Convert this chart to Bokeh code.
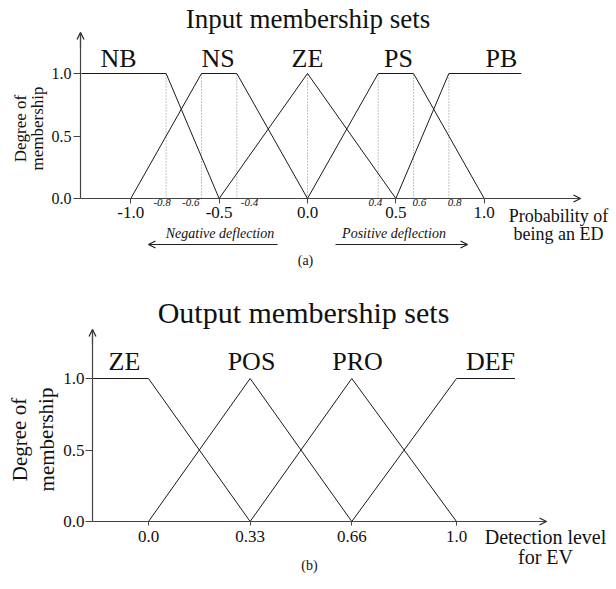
from bokeh.plotting import figure
from bokeh.models import (Range1d, Label, LabelSet, Arrow, OpenHead,
                          FixedTicker, ColumnDataSource)
from bokeh.layouts import column
from bokeh.embed import file_html
from bokeh.resources import INLINE
from bokeh.core.properties import value

FONT = "Liberation Serif"

# ---------------- data: (a) input membership sets ----------------
in_names = ["NB", "NS", "ZE", "PS", "PB"]
nb_x = [-1.28, -0.8, -0.5]
nb_y = [1.0, 1.0, 0.0]
ns_x = [-1.0, -0.6, -0.4, 0.0]
ns_y = [0.0, 1.0, 1.0, 0.0]
ze_x = [-0.5, 0.0, 0.5]
ze_y = [0.0, 1.0, 0.0]
ps_x = [0.0, 0.4, 0.6, 1.0]
ps_y = [0.0, 1.0, 1.0, 0.0]
pb_x = [0.5, 0.8, 1.21]
pb_y = [0.0, 1.0, 1.0]
in_xticks = [-1.0, -0.5, 0.0, 0.5, 1.0]
in_xtick_labels = ["-1.0", "-0.5", "0.0", "0.5", "1.0"]
in_marks = [-0.8, -0.6, -0.4, 0.4, 0.6, 0.8]
in_mark_labels = ["-0.8", "-0.6", "-0.4", "0.4", "0.6", "0.8"]
in_guides = [-0.8, -0.6, -0.4, 0.0, 0.4, 0.6, 0.8]

# ---------------- data: (b) output membership sets ----------------
out_names = ["ZE", "POS", "PRO", "DEF"]
oze_x = [-0.18, 0.0, 0.33]
oze_y = [1.0, 1.0, 0.0]
pos_x = [0.0, 0.33, 0.66]
pos_y = [0.0, 1.0, 0.0]
pro_x = [0.33, 0.66, 1.0]
pro_y = [0.0, 1.0, 0.0]
def_x = [0.66, 1.0, 1.19]
def_y = [0.0, 1.0, 1.0]
out_xticks = [0.0, 0.33, 0.66, 1.0]
out_xtick_labels = ["0.0", "0.33", "0.66", "1.0"]

yticks = [0.0, 0.5, 1.0]
ytick_labels = ["0.0", "0.5", "1.0"]

# ---------------- layout (positions of annotations, page pixels) ----------------
in_name_px = [118, 217.5, 307, 398, 501]
in_name_base = 67
in_mark_align = ["center", "right", "left", "right", "left", "left"]
in_mark_dx = [-4, -2, 4, 4, -1, -1]
out_name_px = [124, 251, 357, 490]
out_name_base = 370
SHIFT = 0.35   # baseline correction (em)

W = 614
H1 = 288
H2 = 299


def style(p, xt, xl, yt, yl, xfs, yfs, xout, yout, xstand, ystand,
          xbounds, ybounds):
    p.xgrid.visible = False
    p.ygrid.visible = False
    p.outline_line_color = None
    p.background_fill_color = "white"
    p.border_fill_color = "white"
    p.title.visible = False
    xa, ya = p.xaxis[0], p.yaxis[0]
    for ax in (xa, ya):
        ax.axis_line_color = "#444444"
        ax.axis_line_width = 1.2
        ax.major_tick_line_color = "#444444"
        ax.minor_tick_line_color = None
        ax.major_tick_in = 0
        ax.major_label_text_font = FONT
        ax.major_label_text_color = "#111111"
    xa.fixed_location = 0.0
    xa.bounds = xbounds
    xa.ticker = FixedTicker(ticks=xt)
    xa.major_label_overrides = {t: l for t, l in zip(xt, xl)}
    xa.major_label_text_font_size = xfs
    xa.major_tick_out = xout
    xa.major_label_standoff = xstand
    ya.fixed_location = xbounds[0]
    ya.bounds = ybounds
    ya.ticker = FixedTicker(ticks=yt)
    ya.major_label_overrides = {t: l for t, l in zip(yt, yl)}
    ya.major_label_text_font_size = yfs
    ya.major_tick_out = yout
    ya.major_label_standoff = ystand


def head():
    return OpenHead(size=7, line_width=1.2, line_color="#222222")


def make_lab(xf, yf):
    def lab(p, px, base, text, size, align="center", style="normal"):
        p.add_layout(Label(x=xf(px), y=yf(base - SHIFT * size), text=text,
                           text_font=FONT, text_font_size=f"{size}px",
                           text_align=align, text_baseline="alphabetic",
                           text_font_style=style, text_color="#111111"))

    def vlab(p, px, pyc, text, size):
        p.add_layout(Label(x=xf(px), y=yf(pyc), text=text, text_font=FONT,
                           text_font_size=f"{size}px", text_align="center",
                           text_baseline="middle", text_color="#111111",
                           angle=1.5708))
    return lab, vlab


# ================= (a) =================  page y 0..H1
K1 = 176.7
def xa_(px):
    return (px - 307.0) / K1
def ya_(py):
    return (198.0 - py) / 125.0

lab1, vlab1 = make_lab(xa_, ya_)

p1 = figure(width=W, height=H1, output_backend="svg", toolbar_location=None,
            x_range=Range1d(xa_(0), xa_(W)), y_range=Range1d(ya_(H1), ya_(0)),
            min_border=0)
style(p1, in_xticks, in_xtick_labels, yticks, ytick_labels,
      "17px", "16px", 5, 7, 3, 2, (xa_(80), xa_(580)), (0.0, ya_(32)))

p1.segment(x0=in_guides, y0=[0.0] * len(in_guides), x1=in_guides,
           y1=[1.0] * len(in_guides), line_color="#8a8a8a",
           line_dash="1 2", line_width=1)
for xs, ys in [(nb_x, nb_y), (ns_x, ns_y), (ze_x, ze_y), (ps_x, ps_y), (pb_x, pb_y)]:
    p1.line(xs, ys, line_color="#1a1a1a", line_width=1)

p1.text(x=[xa_(v) for v in in_name_px],
        y=[ya_(in_name_base - SHIFT * 26)] * len(in_names), text=in_names,
        text_font=value(FONT), text_font_size="26px", text_align="center",
        text_baseline="alphabetic", text_color="#111111")

src_marks = ColumnDataSource(dict(x=in_marks,
                                  y=[ya_(209 - SHIFT * 11)] * len(in_marks),
                                  t=in_mark_labels, a=in_mark_align, dx=in_mark_dx))
p1.add_layout(LabelSet(x="x", y="y", text="t", source=src_marks,
                       text_align="a", x_offset="dx", text_baseline="alphabetic",
                       text_font=value(FONT), text_font_size="11px",
                       text_font_style="italic", text_color="#111111"))

p1.add_layout(Arrow(end=head(), x_start=xa_(565), y_start=0, x_end=xa_(580), y_end=0,
                    line_color="#444444", line_width=1.2))
p1.add_layout(Arrow(end=head(), x_start=xa_(80), y_start=ya_(47), x_end=xa_(80),
                    y_end=ya_(32), line_color="#444444", line_width=1.2))

lab1(p1, 307.5, 28, "Input membership sets", 27)
vlab1(p1, 20, 128, "Degree of", 17)
vlab1(p1, 37, 128, "membership", 17)
lab1(p1, 558, 222, "Probability of", 18)
lab1(p1, 558, 240, "being an ED", 18)
lab1(p1, 219.5, 238, "Negative deflection", 14, style="italic")
lab1(p1, 393.5, 238, "Positive deflection", 14, style="italic")
p1.add_layout(Arrow(end=head(), x_start=xa_(277), y_start=ya_(244), x_end=xa_(148),
                    y_end=ya_(244), line_color="#222222", line_width=1))
p1.add_layout(Arrow(end=head(), x_start=xa_(335), y_start=ya_(244), x_end=xa_(467),
                    y_end=ya_(244), line_color="#222222", line_width=1))
lab1(p1, 305, 265, "(a)", 14)

# ================= (b) =================  page y H1..H1+H2
K2 = 308.0
def xb_(px):
    return (px - 148.0) / K2
def yb_(py):
    return (521.0 - py) / 143.0

lab2, vlab2 = make_lab(xb_, yb_)

p2 = figure(width=W, height=H2, output_backend="svg", toolbar_location=None,
            x_range=Range1d(xb_(0), xb_(W)), y_range=Range1d(yb_(H1 + H2), yb_(H1)),
            min_border=0)
style(p2, out_xticks, out_xtick_labels, yticks, ytick_labels,
      "17px", "17px", 4, 7, 5, 1, (xb_(92), xb_(546)), (0.0, yb_(329)))

for xs, ys in [(oze_x, oze_y), (pos_x, pos_y), (pro_x, pro_y), (def_x, def_y)]:
    p2.line(xs, ys, line_color="#1a1a1a", line_width=1)

p2.text(x=[xb_(v) for v in out_name_px],
        y=[yb_(out_name_base - SHIFT * 26)] * len(out_names), text=out_names,
        text_font=value(FONT), text_font_size="26px", text_align="center",
        text_baseline="alphabetic", text_color="#111111")

p2.add_layout(Arrow(end=head(), x_start=xb_(531), y_start=0, x_end=xb_(546), y_end=0,
                    line_color="#444444", line_width=1.2))
p2.add_layout(Arrow(end=head(), x_start=xb_(92), y_start=yb_(344), x_end=xb_(92),
                    y_end=yb_(329), line_color="#444444", line_width=1.2))

lab2(p2, 303, 322, "Output membership sets", 30)
vlab2(p2, 19, 439, "Degree of", 21)
vlab2(p2, 46, 439, "membership", 21)
lab2(p2, 545, 543, "Detection level", 20)
lab2(p2, 545, 563, "for EV", 20)
lab2(p2, 309, 570, "(b)", 14)

layout = column(p1, p2, spacing=0)
open("out.html", "w").write(file_html(layout, INLINE))
